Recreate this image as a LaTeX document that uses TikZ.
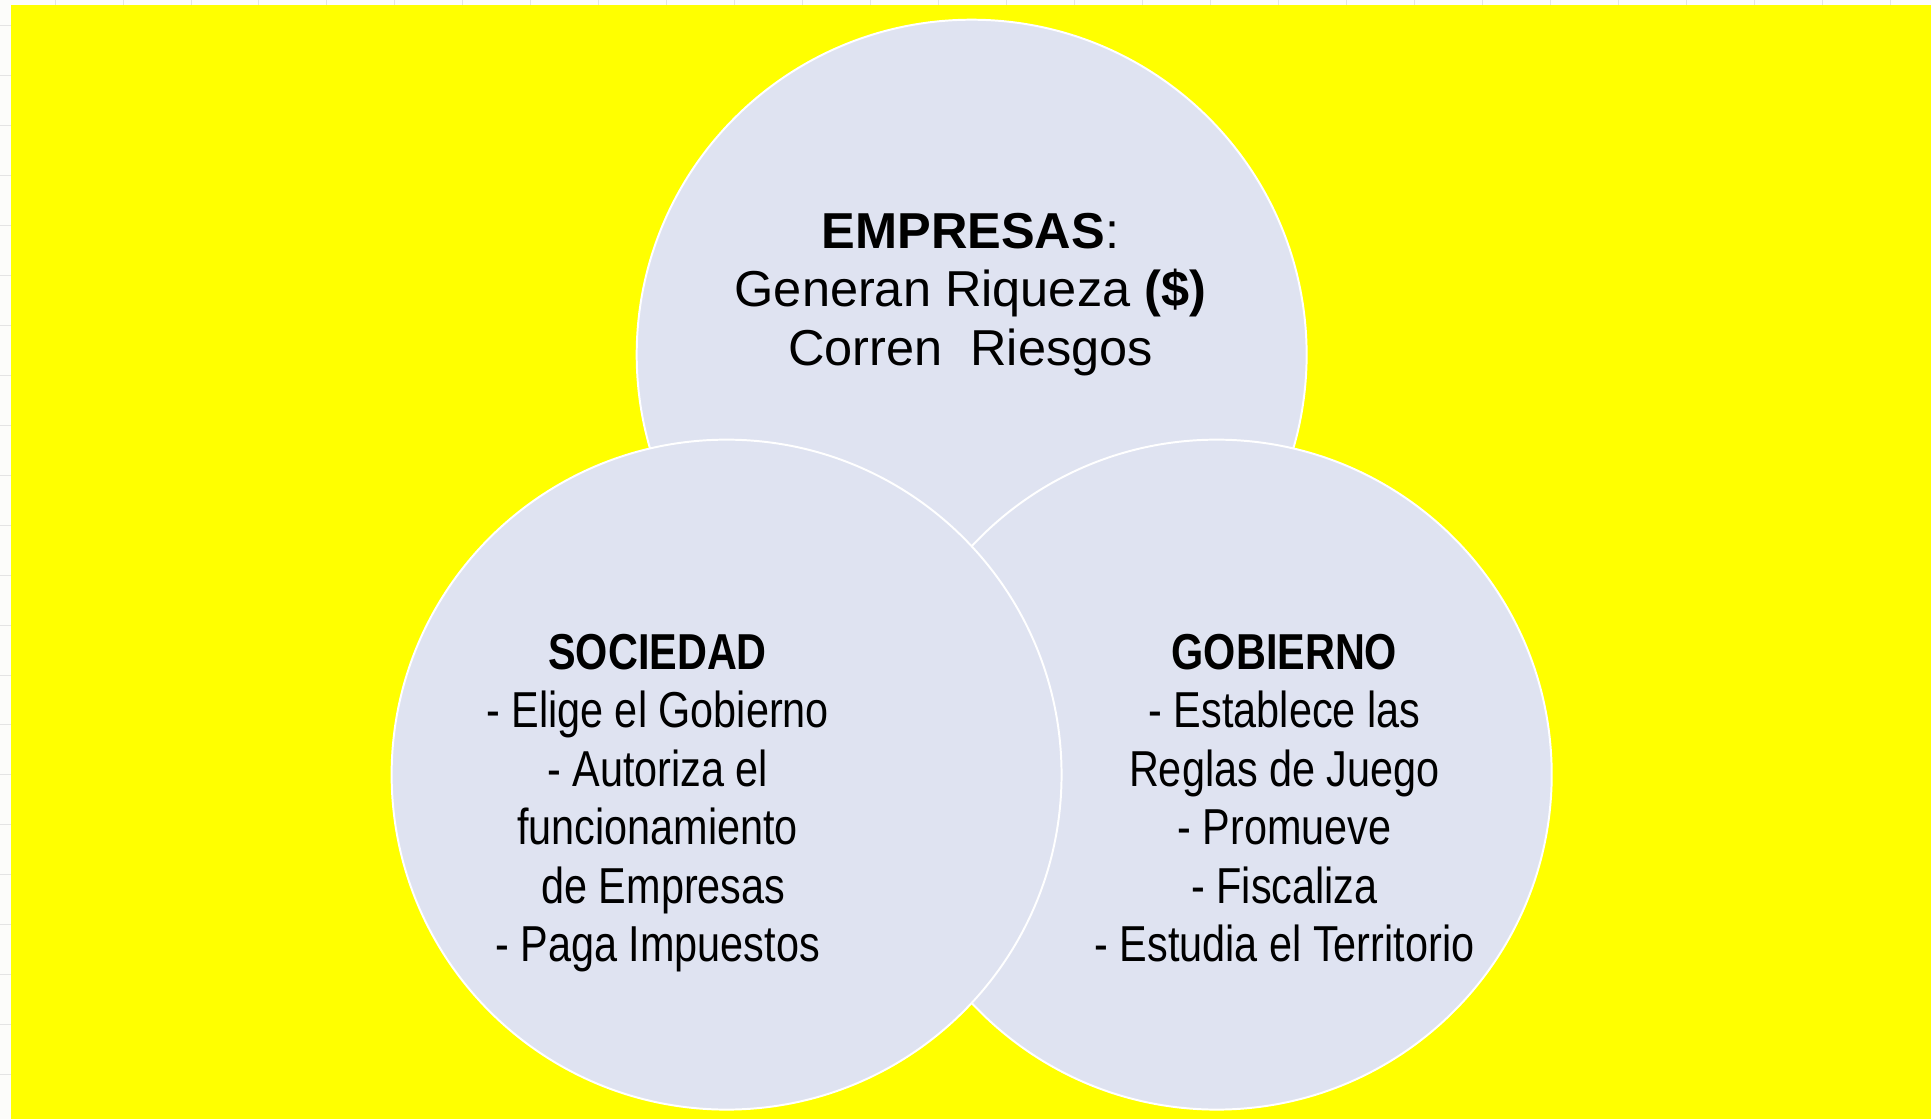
\documentclass[tikz,border=0pt]{standalone}
\usepackage{fontspec}
\setmainfont{Liberation Sans}
\newfontfamily\narrowfont[FakeStretch=0.82]{Liberation Sans}
\definecolor{venn}{RGB}{223,227,241}
\definecolor{sheet}{RGB}{252,252,250}
\definecolor{cellline}{RGB}{228,228,228}
\definecolor{bgyellow}{RGB}{255,255,0}
\tikzset{
	set/.style={circle, draw=white, line width=1.6pt, fill=venn, minimum size=544pt, inner sep=0pt},
	settext/.style={align=center, inner sep=0pt, font=\fontsize{41pt}{47.5pt}\selectfont}
}
\begin{document}
\begin{tikzpicture}[x=1pt, y=-1pt]
	\useasboundingbox (0,0) rectangle (1568,909);
	% hoja de calculo al fondo
	\fill[sheet] (0,0) rectangle (1568,909);
	\foreach \cx in {0,...,27} {
		\draw[cellline, line width=0.8pt] ({44.7+55.2*\cx},0) -- ({44.7+55.2*\cx},909);
	}
	\foreach \cy in {0,...,21} {
		\draw[cellline, line width=0.8pt] (0,{20.3+40.6*\cy}) -- (1568,{20.3+40.6*\cy});
	}
	\fill[bgyellow] (8.9,4.1) rectangle (1568,909);
	% los tres conjuntos
	\node[set] (emp) at (789,288) {};
	\node[set] (gob) at (988,629) {};
	\node[set] (soc) at (590,629) {};
	\node[settext] (emptxt) at (788,239)
		{\textbf{EMPRESAS}:\\Generan Riqueza \textbf{(\$)}\\Corren\ \ Riesgos};
	\node[settext, font=\fontsize{41pt}{47.5pt}\selectfont\narrowfont] (soctxt) at (534,652)
		{\textbf{SOCIEDAD}\\- Elige el Gobierno\\- Autoriza el\\funcionamiento\\\ de Empresas\\- Paga Impuestos};
	\node[settext, font=\fontsize{41pt}{47.5pt}\selectfont\narrowfont] (gobtxt) at (1043,648)
		{\textbf{GOBIERNO}\\- Establece las\\Reglas de Juego\\- Promueve\\- Fiscaliza\\- Estudia el Territorio};
\end{tikzpicture}
\end{document}
